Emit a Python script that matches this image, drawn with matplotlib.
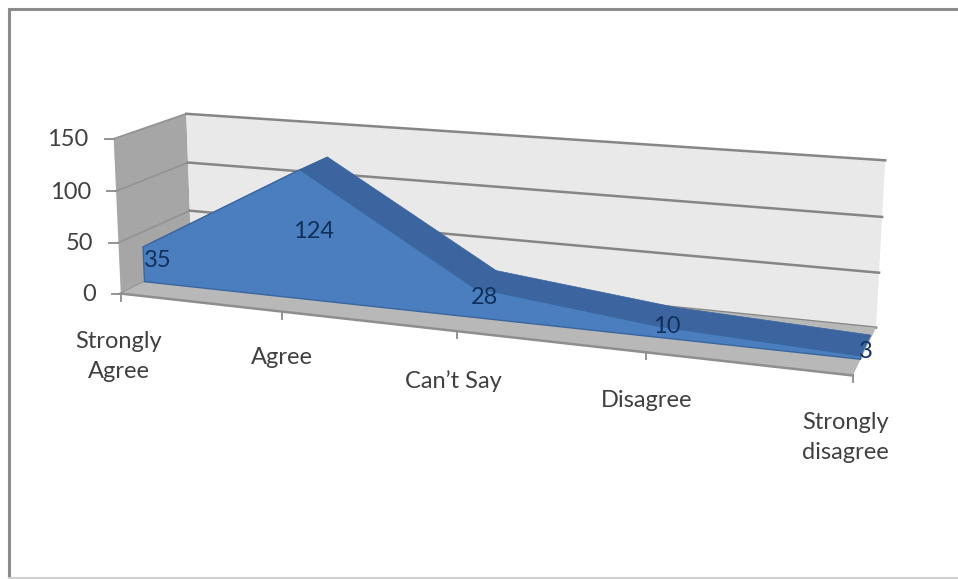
import numpy as np
import matplotlib
matplotlib.use('Agg')
import matplotlib.pyplot as plt
from matplotlib.patches import Polygon

plt.rcParams['font.family'] = ['Lato', 'DejaVu Sans']

categories = ['Strongly\nAgree', 'Agree', 'Can\u2019t Say', 'Disagree', 'Strongly\ndisagree']
values = [35, 124, 28, 10, 3]
y_ticks = [0, 50, 100, 150]

# box corners (category, depth, value) and where they land on the canvas
box_world = [(0, 0, 0), (4, 0, 0), (0, 1, 0), (4, 1, 0), (0, 1, 150), (4, 1, 150), (0, 0, 150),
             (1, 0, 0), (2, 0, 0), (3, 0, 0)]
box_canvas = [(122, 293), (853, 376), (190, 259), (876, 328), (188, 113), (885, 160), (112, 140),
              (282, 311), (457, 331), (646, 352)]


def fit_camera(world, canvas):
    # plain DLT, scaled so the value axis doesn't swamp the others
    rows = []
    for (x, d, v), (u, w) in zip(world, canvas):
        p = [x, d, v / 150, 1]
        u = u / 1000
        w = w / 1000
        rows.append(p + [0, 0, 0, 0] + [-u * c for c in p])
        rows.append([0, 0, 0, 0] + p + [-w * c for c in p])
    _, _, vt = np.linalg.svd(np.array(rows))
    return vt[-1].reshape(3, 4)


cam = fit_camera(box_world, box_canvas)


def proj(x, d, v):
    q = cam @ np.array([x, d, v / 150, 1])
    return (q[0] / q[2] * 1000, q[1] / q[2] * 1000)


fig = plt.figure(figsize=(9.58, 5.79), dpi=100)
ax = fig.add_axes([0, 0, 1, 1])
ax.set_xlim(0, 958)
ax.set_ylim(579, 0)
ax.axis('off')

# chart frame
ax.plot([9, 9, 958], [579, 9, 9], color='#8c8c8c', lw=2.2, solid_joinstyle='miter')
ax.plot([9, 958], [577.5, 577.5], color='#d0d0d0', lw=1.5)

# walls and floor
n = len(values) - 1
ax.add_patch(Polygon([proj(0, 0, 0), proj(0, 1, 0), proj(0, 1, 150), proj(0, 0, 150)],
                     fc='#a6a6a6', ec='none', zorder=1))
ax.add_patch(Polygon([proj(0, 1, 0), proj(n, 1, 0), proj(n, 1, 150), proj(0, 1, 150)],
                     fc='#e9e9e9', ec='none', zorder=1))

# gridlines run along the back wall and fold onto the side wall
for t in y_ticks:
    pts = [proj(0, 0, t), proj(0, 1, t)]
    ax.plot([p[0] for p in pts], [p[1] for p in pts], color='#949494', lw=1.3, zorder=2)
    pts = [proj(0, 1, t), proj(n, 1, t)]
    ax.plot([p[0] for p in pts], [p[1] for p in pts], color='#868686', lw=1.8, zorder=2)

ax.add_patch(Polygon([proj(0, 0, 0), proj(n, 0, 0), proj(n, 1, 0), proj(0, 1, 0)],
                     fc='#b8b8b8', ec='none', zorder=3))
ax.plot(*zip(proj(0, 0, 0), proj(n, 0, 0)), color='#8e8e8e', lw=1.8, zorder=3)

# the area: top strips first, then the front face over them
depth_front = 0.32
depth_back = 0.76
for i in range(n):
    strip = [proj(i, depth_front, values[i]), proj(i + 1, depth_front, values[i + 1]),
             proj(i + 1, depth_back, values[i + 1]), proj(i, depth_back, values[i])]
    ax.add_patch(Polygon(strip, fc='#3c659f', ec='#3c659f', lw=0.5, zorder=4))
front = [proj(i, depth_front, values[i]) for i in range(n + 1)]
front += [proj(n, depth_front, 0), proj(0, depth_front, 0)]
ax.add_patch(Polygon(front, fc='#4a7ebf', ec='#3a66a0', lw=1.0, zorder=5))

# value labels
for i, v in enumerate(values):
    px, py = proj(i, 0.5, v / 2)
    ax.text(px + 1, py + 2.5, str(v), ha='center', va='center', fontsize=17, color='#10305c', zorder=6)

# y axis ticks and labels
for t in y_ticks:
    px, py = proj(0, 0, t)
    ax.plot([px - 9, px], [py, py], color='#8a8a8a', lw=1.3, zorder=2)
    ax.text(px - 25, py + 1, str(t), ha='right', va='center', fontsize=17, color='#404040')

# category ticks and labels
label_dx = [-2, 0, -3, 0, -7]
label_dy = [63, 46, 50, 48, 62]
for i, c in enumerate(categories):
    px, py = proj(i, 0, 0)
    ax.plot([px, px], [py, py + 7], color='#8a8a8a', lw=1.3, zorder=2)
    ax.text(px + label_dx[i], py + label_dy[i], c, ha='center', va='center', fontsize=17,
            color='#404040', linespacing=1.5)

fig.savefig('out.png', dpi=100)
